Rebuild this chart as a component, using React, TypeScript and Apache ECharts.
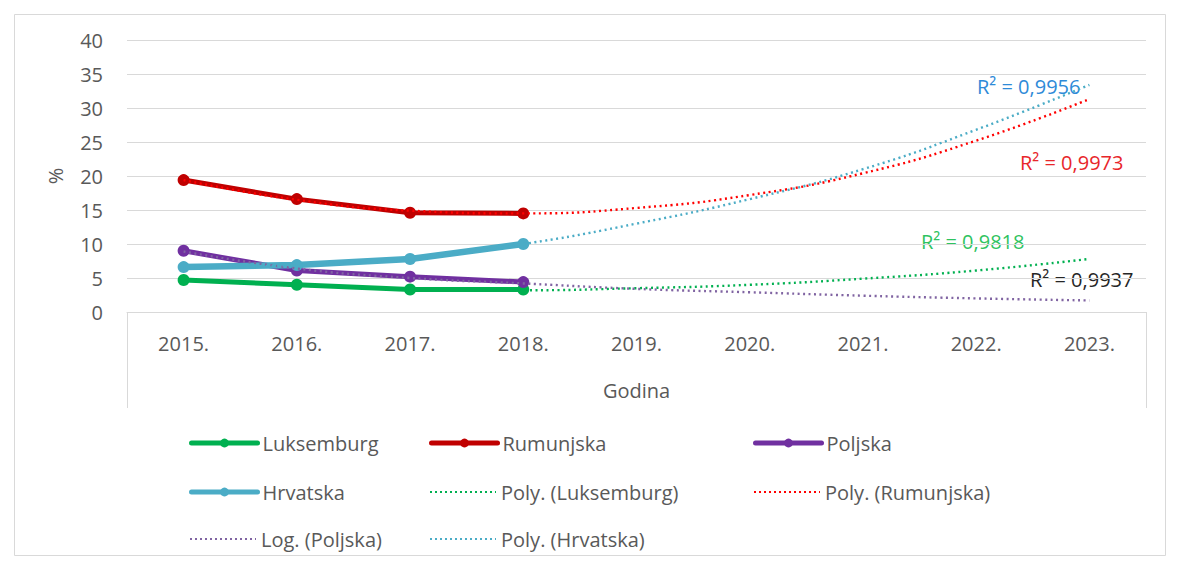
import React, { useEffect, useRef } from "react";
import * as echarts from "echarts";

const years = ["2015.", "2016.", "2017.", "2018.", "2019.", "2020.", "2021.", "2022.", "2023."];
const luksemburg = [4.7, 4.0, 3.3, 3.3, null, null, null, null, null];
const rumunjska = [19.4, 16.6, 14.6, 14.5, null, null, null, null, null];
const poljska = [9.0, 6.1, 5.2, 4.4, null, null, null, null, null];
const hrvatska = [6.6, 6.9, 7.8, 10.0, null, null, null, null, null];
const polyLuksemburg = [4.7, 3.9, 3.4, 3.2, 3.5, 4.0, 4.9, 6.1, 7.8];
const polyRumunjska = [19.4, 16.5, 14.9, 14.5, 15.3, 17.2, 20.4, 25.2, 31.3];
const logPoljska = [8.9, 6.4, 5.0, 4.2, 3.4, 2.9, 2.4, 2.0, 1.7];
const polyHrvatska = [6.6, 6.9, 7.9, 10.0, 13.0, 16.6, 21.0, 26.8, 33.4];
const yTicks = { min: 0, max: 40, interval: 5 };

const FONT = "'Open Sans', 'Noto Sans', sans-serif";
const TXT = "#595959";
const FS = 20;

export default function App() {
  const ref = useRef<HTMLDivElement>(null);
  useEffect(() => {
    document.body.style.margin = "0";
    const chart = echarts.init(ref.current!, null, { renderer: "svg" });
    const solid = (name: string, data: any[], color: string, width: number) => ({
      name, type: "line", data, z: 2,
      symbol: "circle", symbolSize: 12,
      itemStyle: { color },
      lineStyle: { color, width, cap: "round" },
      connectNulls: false,
    });
    const trend = (name: string, data: number[], color: string) => ({
      name, type: "line", data, z: 3, symbol: "none", smooth: true,
      itemStyle: { color },
      lineStyle: { color, width: 2.4, type: [2, 3.5] },
    });
    const legendAt = (name: string, left: number, top: number, isTrend: boolean) => ({
      data: [name], left, top, itemWidth: 66, itemHeight: 11, itemGap: 0,
      textStyle: { fontFamily: FONT, fontSize: FS, color: TXT },
      selectedMode: false,
      itemStyle: isTrend ? { opacity: 0 } : {},
      lineStyle: isTrend ? { width: 2, type: [2, 3] } : { width: 5, cap: "round" },
    });
    const rows = [428, 477, 524];
    const cols = [184, 424, 748];
    chart.setOption({
      animation: false,
      backgroundColor: "#fff",
      textStyle: { fontFamily: FONT },
      grid: { left: 127, right: 32, top: 40, bottom: 250, containLabel: false },
      xAxis: {
        type: "category", data: years, boundaryGap: true,
        axisLine: { lineStyle: { color: "#d9d9d9", width: 1 } },
        axisTick: { show: false },
        axisLabel: { fontFamily: FONT, fontSize: FS, color: TXT, margin: 21 },
        name: "Godina", nameLocation: "middle", nameGap: 68,
        nameTextStyle: { fontFamily: FONT, fontSize: FS, color: TXT },
      },
      yAxis: {
        type: "value", min: yTicks.min, max: yTicks.max, interval: yTicks.interval,
        axisLine: { show: false }, axisTick: { show: false },
        splitLine: { lineStyle: { color: "#d9d9d9", width: 1 } },
        axisLabel: { fontFamily: FONT, fontSize: FS, color: TXT, margin: 24 },
        name: "%", nameLocation: "middle", nameGap: 62, nameRotate: 90,
        nameTextStyle: { fontFamily: FONT, fontSize: FS, color: TXT },
      },
      legend: [
        legendAt("Luksemburg", cols[0], rows[0], false),
        legendAt("Rumunjska", cols[1], rows[0], false),
        legendAt("Poljska", cols[2], rows[0], false),
        legendAt("Hrvatska", cols[0], rows[1], false),
        legendAt("Poly. (Luksemburg)", cols[1], rows[1], true),
        legendAt("Poly. (Rumunjska)", cols[2], rows[1], true),
        legendAt("Log. (Poljska)", cols[0], rows[2], true),
        legendAt("Poly. (Hrvatska)", cols[1], rows[2], true),
      ],
      graphic: [
        { type: "rect", shape: { x: 14.5, y: 14.5, width: 1151, height: 541 }, style: { fill: "none", stroke: "#d9d9d9", lineWidth: 1 }, silent: true },
        { type: "line", shape: { x1: 127.5, y1: 312, x2: 127.5, y2: 408 }, style: { stroke: "#d9d9d9", lineWidth: 1 } },
        { type: "line", shape: { x1: 1146.5, y1: 312, x2: 1146.5, y2: 408 }, style: { stroke: "#d9d9d9", lineWidth: 1 } },
        { type: "text", x: 977, y: 86, style: { text: "R² = 0,9956", fill: "#2e8ad8", font: `${FS}px ${FONT}`, textVerticalAlign: "middle" } },
        { type: "text", x: 1020, y: 162, style: { text: "R² = 0,9973", fill: "#e8262a", font: `${FS}px ${FONT}`, textVerticalAlign: "middle" } },
        { type: "text", x: 921, y: 241, style: { text: "R² = 0,9818", fill: "#2fc35f", font: `${FS}px ${FONT}`, textVerticalAlign: "middle" } },
        { type: "text", x: 1030, y: 279, style: { text: "R² = 0,9937", fill: "#262626", font: `${FS}px ${FONT}`, textVerticalAlign: "middle" } },
      ],
      series: [
        solid("Luksemburg", luksemburg, "#00b050", 5),
        solid("Rumunjska", rumunjska, "#c00000", 5),
        solid("Poljska", poljska, "#7030a0", 5),
        solid("Hrvatska", hrvatska, "#4bacc6", 6.5),
        trend("Poly. (Luksemburg)", polyLuksemburg, "#00b050"),
        trend("Poly. (Rumunjska)", polyRumunjska, "#ff0000"),
        trend("Log. (Poljska)", logPoljska, "#8064a2"),
        trend("Poly. (Hrvatska)", polyHrvatska, "#4bacc6"),
      ],
    });
    return () => chart.dispose();
  }, []);
  return <div ref={ref} style={{ width: 1178, height: 562 }} />;
}
